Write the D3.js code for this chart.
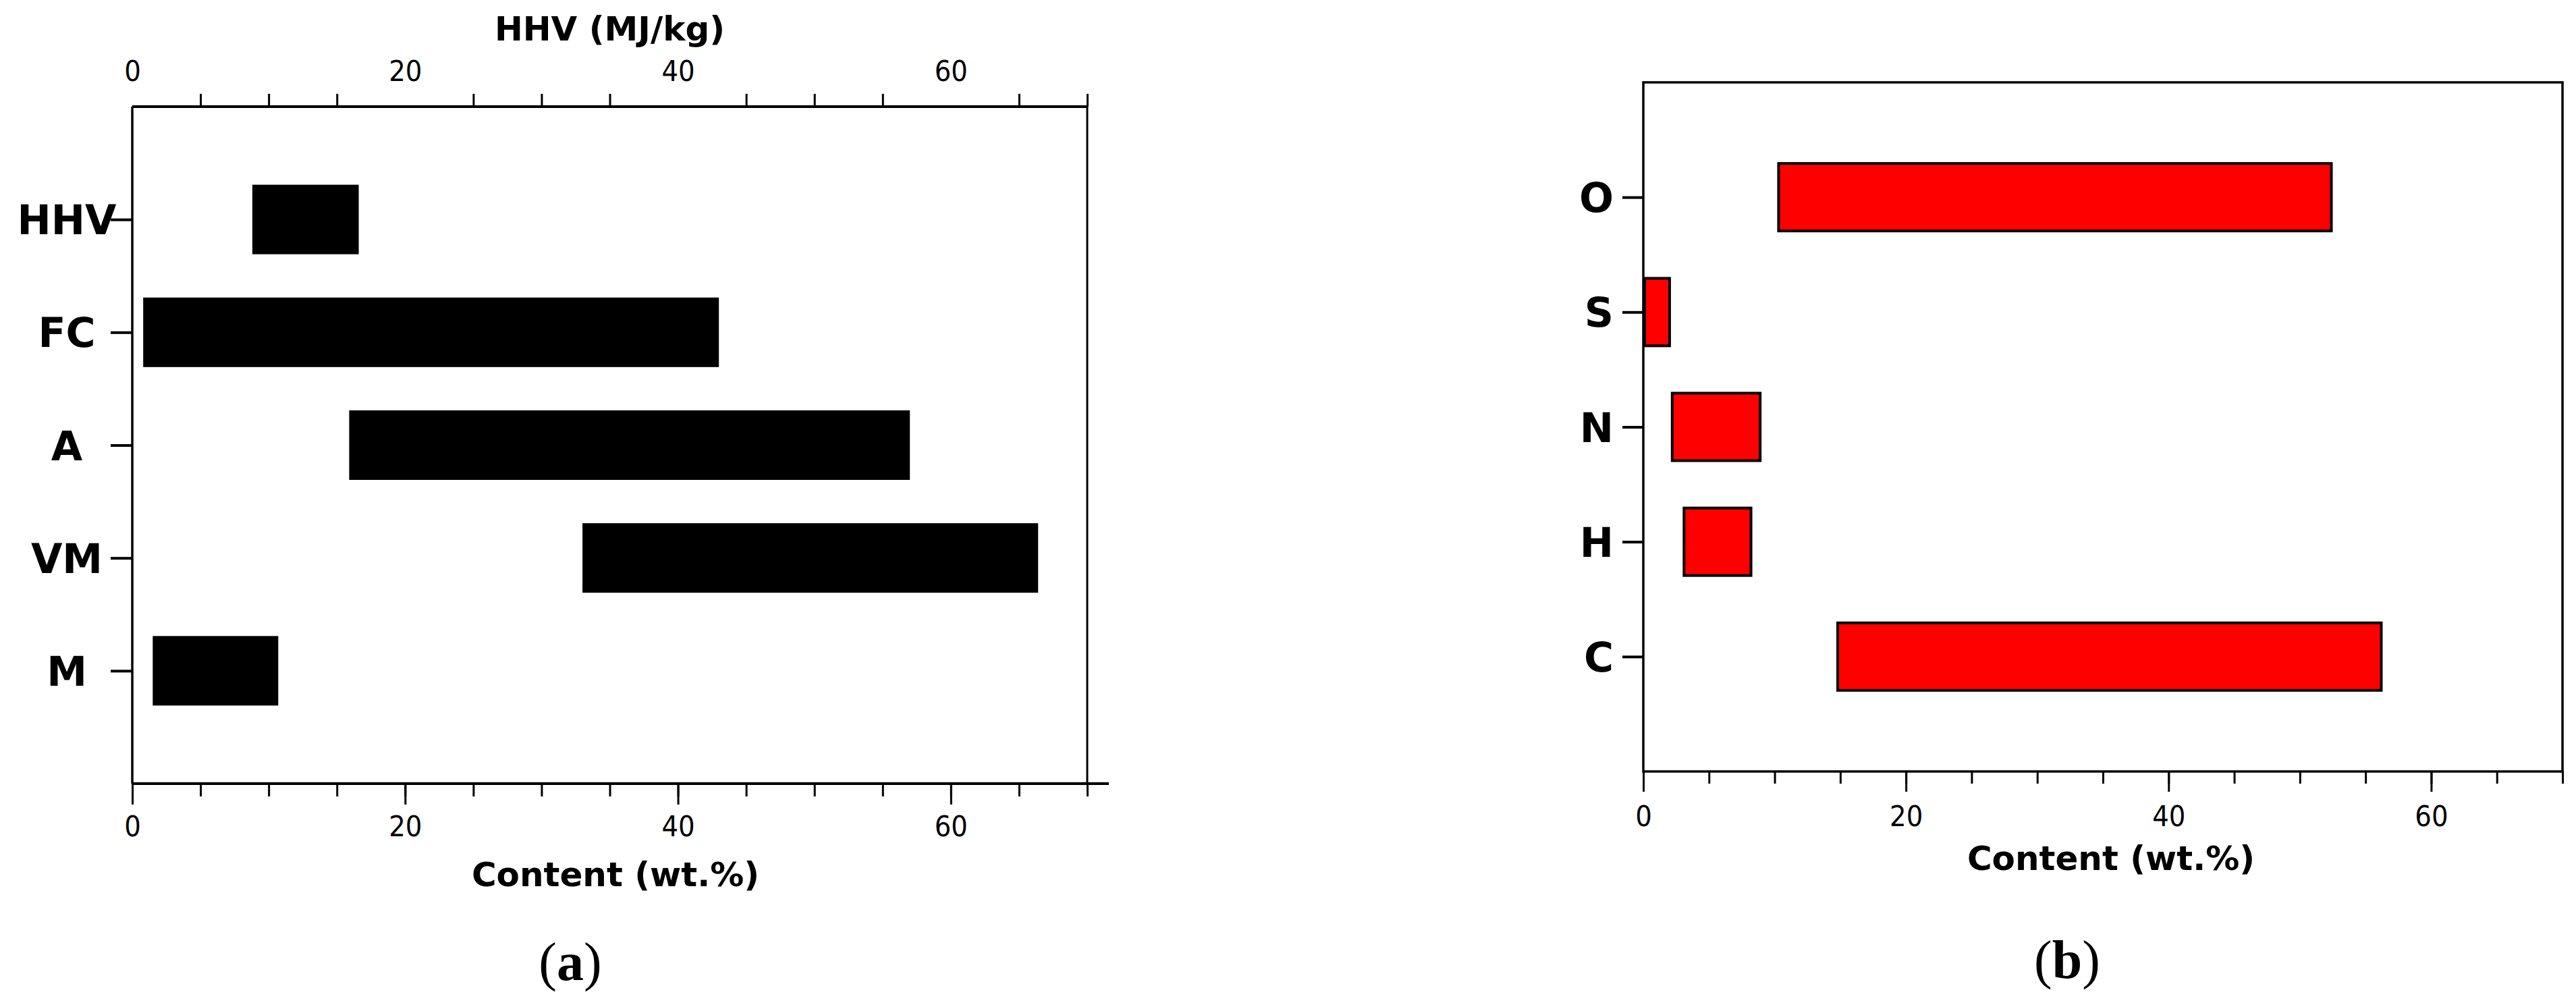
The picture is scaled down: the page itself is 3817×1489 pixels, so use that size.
<!DOCTYPE html>
<html>
<head>
<meta charset="utf-8">
<script src="https://cdn.jsdelivr.net/npm/d3@7"></script>
<style>
  html, body { margin: 0; padding: 0; background: #fff; }
  svg { display: block; }
  .num { font-family: "DejaVu Sans Condensed", "DejaVu Sans", sans-serif; font-size: 43px; fill: #000; }
  .cat { font-family: "DejaVu Sans", Verdana, sans-serif; font-weight: bold; font-size: 60px; fill: #000; }
  .ttl { font-family: "DejaVu Sans", Verdana, sans-serif; font-weight: bold; font-size: 50px; fill: #000; }
  .pan { font-family: "Liberation Serif", "Times New Roman", serif; font-size: 80px; fill: #000; }
</style>
</head>
<body>
<svg id="chart" width="3817" height="1489"></svg>
<script>
// ---- data ----
const catsA = ["HHV", "FC", "A", "VM", "M"];
const lowA  = [8.8, 0.8, 15.9, 33.0, 1.5];
const highA = [16.6, 43.0, 57.0, 66.4, 10.7];

const catsB = ["O", "S", "N", "H", "C"];
const lowB  = [10.3, 0.1, 2.2, 3.1, 14.8];
const highB = [52.4, 2.0, 8.9, 8.2, 56.2];

const majorTicks = [0, 20, 40, 60];
const minorTicks = d3.range(0, 71, 5);
const topMinorTicks = [5, 10, 15, 25, 30, 35, 45, 50, 55, 65, 70];
const xDomain = [0, 70];

const svg = d3.select("#chart");
svg.append("rect").attr("width", 3817).attr("height", 1489).attr("fill", "#fff");

// ================= Panel (a) =================
const A = { left: 196, right: 1611, top: 158, bottom: 1161 };
const xA = d3.scaleLinear().domain(xDomain).range([A.left, A.right]);
const xTopA = d3.scaleLinear().domain(xDomain).range([A.left, A.right]); // HHV (MJ/kg)
const yA = d3.scalePoint().domain(catsA).range([A.top, A.bottom]).padding(1);
const bhA = 103;

const gA = svg.append("g");
gA.selectAll("rect.bar").data(catsA).join("rect")
  .attr("class", "bar")
  .attr("x", (d, i) => (d === "HHV" ? xTopA(lowA[i]) : xA(lowA[i])))
  .attr("width", (d, i) => (d === "HHV" ? xTopA(highA[i]) - xTopA(lowA[i]) : xA(highA[i]) - xA(lowA[i])))
  .attr("y", d => yA(d) - bhA / 2)
  .attr("height", bhA)
  .attr("fill", "#000");

// frame lines
gA.append("line").attr("x1", A.left).attr("x2", A.left).attr("y1", A.top).attr("y2", A.bottom).attr("stroke", "#000").attr("stroke-width", 3.5);
gA.append("line").attr("x1", A.right).attr("x2", A.right).attr("y1", A.top).attr("y2", A.bottom).attr("stroke", "#000").attr("stroke-width", 3);
gA.append("line").attr("x1", A.left).attr("x2", A.right).attr("y1", A.top).attr("y2", A.top).attr("stroke", "#000").attr("stroke-width", 4);
gA.append("line").attr("x1", A.left).attr("x2", A.right + 32).attr("y1", A.bottom).attr("y2", A.bottom).attr("stroke", "#000").attr("stroke-width", 4);

// bottom axis
const botMinorA = gA.append("g").attr("transform", `translate(0,${A.bottom})`)
  .call(d3.axisBottom(xA).tickValues(minorTicks).tickSize(19).tickFormat(""));
const botMajorA = gA.append("g").attr("transform", `translate(0,${A.bottom})`)
  .call(d3.axisBottom(xA).tickValues(majorTicks).tickSize(31).tickPadding(16).tickFormat(d3.format("d")));
// top axis (HHV)
const topMinorA = gA.append("g").attr("transform", `translate(0,${A.top})`)
  .call(d3.axisTop(xTopA).tickValues(topMinorTicks).tickSize(19).tickFormat(""));
const topLabA = gA.append("g").attr("transform", `translate(0,${A.top})`)
  .call(d3.axisTop(xTopA).tickValues(majorTicks).tickSize(0).tickPadding(38).tickFormat(d3.format("d")));
topLabA.selectAll("line").remove();
// left axis
const leftA = gA.append("g").attr("transform", `translate(${A.left},0)`)
  .call(d3.axisLeft(yA).tickSize(32).tickPadding(0));

[botMinorA, botMajorA, topMinorA, topLabA].forEach(g => {
  g.select(".domain").remove();
  g.selectAll("line").attr("stroke", "#000").attr("stroke-width", 3);
  g.selectAll("text").attr("class", "num").attr("font-family", null).attr("font-size", null);
});
leftA.select(".domain").remove();
leftA.selectAll("line").attr("stroke", "#000").attr("stroke-width", 4);
leftA.selectAll("text").attr("class", "cat").attr("font-family", null).attr("font-size", null)
  .attr("text-anchor", "middle").attr("x", -97).attr("dy", "0.36em");

gA.append("text").attr("class", "ttl").attr("x", (A.left + A.right) / 2).attr("y", 60)
  .attr("text-anchor", "middle").text("HHV (MJ/kg)");
gA.append("text").attr("class", "ttl").attr("x", 912).attr("y", 1313)
  .attr("text-anchor", "middle").text("Content (wt.%)");
const pa = gA.append("text").attr("class", "pan").attr("x", 845).attr("y", 1452).attr("text-anchor", "middle");
pa.append("tspan").text("(");
pa.append("tspan").attr("font-weight", "bold").text("a");
pa.append("tspan").text(")");

// ================= Panel (b) =================
const B = { left: 2435, right: 3797, top: 122, bottom: 1143 };
const xB = d3.scaleLinear().domain(xDomain).range([B.left, B.right]);
const yB = d3.scalePoint().domain(catsB).range([B.top, B.bottom]).padding(1);
const bhB = 100;

const gB = svg.append("g");
gB.selectAll("rect.bar").data(catsB).join("rect")
  .attr("class", "bar")
  .attr("x", (d, i) => xB(lowB[i]))
  .attr("width", (d, i) => xB(highB[i]) - xB(lowB[i]))
  .attr("y", d => yB(d) - bhB / 2)
  .attr("height", bhB)
  .attr("fill", "#ff0000")
  .attr("stroke", "#000")
  .attr("stroke-width", 4);

gB.append("rect").attr("x", B.left).attr("y", B.top).attr("width", B.right - B.left).attr("height", B.bottom - B.top)
  .attr("fill", "none").attr("stroke", "#000").attr("stroke-width", 3.5);

const botMinorB = gB.append("g").attr("transform", `translate(0,${B.bottom})`)
  .call(d3.axisBottom(xB).tickValues(minorTicks).tickSize(18).tickFormat(""));
const botMajorB = gB.append("g").attr("transform", `translate(0,${B.bottom})`)
  .call(d3.axisBottom(xB).tickValues(majorTicks).tickSize(30).tickPadding(20).tickFormat(d3.format("d")));
const leftB = gB.append("g").attr("transform", `translate(${B.left},0)`)
  .call(d3.axisLeft(yB).tickSize(31).tickPadding(13));

[botMinorB, botMajorB].forEach(g => {
  g.select(".domain").remove();
  g.selectAll("line").attr("stroke", "#000").attr("stroke-width", 3);
  g.selectAll("text").attr("class", "num").attr("font-family", null).attr("font-size", null);
});
leftB.select(".domain").remove();
leftB.selectAll("line").attr("stroke", "#000").attr("stroke-width", 4);
leftB.selectAll("text").attr("class", "cat").attr("font-family", null).attr("font-size", null).attr("dy", "0.36em");

gB.append("text").attr("class", "ttl").attr("x", 3128).attr("y", 1289)
  .attr("text-anchor", "middle").text("Content (wt.%)");
const pb = gB.append("text").attr("class", "pan").attr("x", 3063).attr("y", 1449).attr("text-anchor", "middle");
pb.append("tspan").text("(");
pb.append("tspan").attr("font-weight", "bold").text("b");
pb.append("tspan").text(")");
</script>
</body>
</html>
